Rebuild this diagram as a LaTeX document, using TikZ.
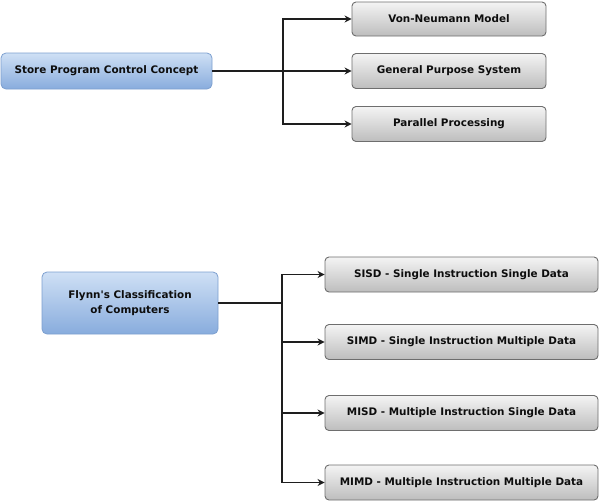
\documentclass[tikz,border=0pt]{standalone}
\usepackage{fontspec}
\setmainfont{DejaVu Sans}[Ligatures=TeXOff]
\usetikzlibrary{arrows.meta}
\definecolor{bluetop}{HTML}{CFE0F5}
\definecolor{bluebot}{HTML}{88ACDD}
\definecolor{blueline}{HTML}{7C9FCF}
\definecolor{greytop}{HTML}{F4F4F4}
\definecolor{greybot}{HTML}{BDBDBD}
\definecolor{greyline}{HTML}{6E6E6E}
\definecolor{conn}{HTML}{1E1E1E}
\tikzset{
  lbl/.style={font=\fontsize{10.4}{15}\selectfont\bfseries, text=black!95},
  bluebox/.style={lbl, draw=blueline, line width=0.8pt, rounded corners=5pt, top color=bluetop, bottom color=bluebot, inner sep=0pt, align=center},
  greybox/.style={lbl, draw=greyline, line width=0.9pt, rounded corners=4pt, top color=greytop, bottom color=greybot, inner sep=0pt, align=center},
  link/.style={draw=conn, line width=1.3pt},
  arr/.style={link, -{Stealth[length=7pt,width=7pt]}}
}
\begin{document}
\begin{tikzpicture}[x=1pt,y=-1pt]
\useasboundingbox (0,0) rectangle (602,501);
% top group
\node[bluebox, minimum width=211pt, minimum height=36pt] (store) at (106.5,71) {Store Program Control Concept};
\node[greybox, minimum width=194pt, minimum height=34pt] (von) at (449,19) {Von-Neumann Model};
\node[greybox, minimum width=194pt, minimum height=35pt] (gen) at (449,71) {General Purpose System};
\node[greybox, minimum width=194pt, minimum height=35pt] (par) at (449,124) {Parallel Processing};
\coordinate (j1) at (283,71);
\draw[link] (store.east) -- (j1);
\draw[arr] (j1) |- (von.west);
\draw[arr] (j1) -- (gen.west);
\draw[arr] (j1) |- (par.west);
% bottom group
\node[bluebox, minimum width=176pt, minimum height=62pt] (flynn) at (130,303) {Flynn's Classification\\of Computers};
\node[greybox, minimum width=273pt, minimum height=35pt] (sisd) at (461.5,274.5) {SISD - Single Instruction Single Data};
\node[greybox, minimum width=273pt, minimum height=35pt] (simd) at (461.5,342) {SIMD - Single Instruction Multiple Data};
\node[greybox, minimum width=273pt, minimum height=35pt] (misd) at (461.5,413) {MISD - Multiple Instruction Single Data};
\node[greybox, minimum width=273pt, minimum height=35pt] (mimd) at (461.5,482.5) {MIMD - Multiple Instruction Multiple Data};
\coordinate (j2) at (282,303);
\draw[link] (flynn.east) -- (j2);
\draw[arr] (j2) |- (sisd.west);
\draw[arr] (j2) |- (simd.west);
\draw[arr] (j2) |- (misd.west);
\draw[arr] (j2) |- (mimd.west);
\end{tikzpicture}
\end{document}
